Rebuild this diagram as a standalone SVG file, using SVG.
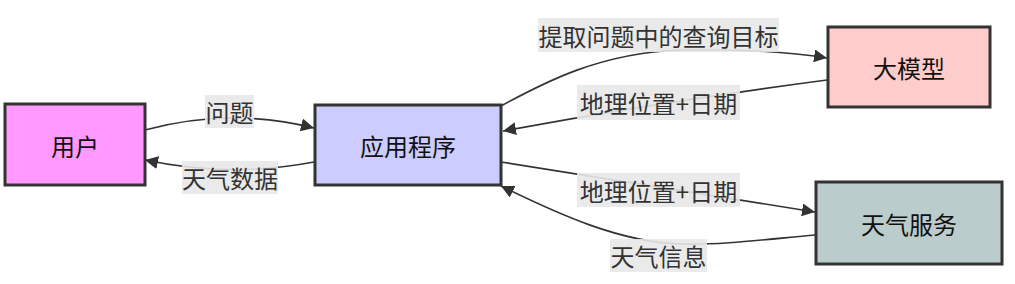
<svg xmlns="http://www.w3.org/2000/svg" width="1015" height="284" viewBox="0 0 1015 284">
<style>
.node rect{stroke:#333;stroke-width:3}
.node text,.lbl text{font-family:"Noto Sans CJK SC","Noto Sans",sans-serif;font-size:24px;fill:#333;text-anchor:middle;dominant-baseline:central}
.node text{fill:#111}
.edge{fill:none;stroke:#333;stroke-width:1.6}
.lbl rect{fill:#e8e8e8;opacity:0.9}
</style>
<defs>
<marker id="arr" viewBox="0 0 10 10" refX="10" refY="5" markerUnits="userSpaceOnUse" markerWidth="13" markerHeight="13" orient="auto">
<path d="M0,0 L10,5 L0,10 z" fill="#333"/>
</marker>
</defs>
<rect width="1015" height="284" fill="#fff"/>
<g id="connectors">
<path class="edge" d="M145,130 Q229,107 314,128" marker-end="url(#arr)"/>
<path class="edge" d="M314,162 Q230,178 145,160" marker-end="url(#arr)"/>
<path class="edge" d="M501,106 C545,82 600,53 680,50 C740,49 790,52 827,58" marker-end="url(#arr)"/>
<path class="edge" d="M827,80 Q660,102 503,131" marker-end="url(#arr)"/>
<path class="edge" d="M501,162 L815,212" marker-end="url(#arr)"/>
<path class="edge" d="M815,235 C760,240 720,245 680,244 C620,242 560,215 501,186" marker-end="url(#arr)"/>
<g class="lbl"><rect x="205" y="95" width="49" height="33"/><text x="229.5" y="111.5">问题</text></g>
<g class="lbl"><rect x="182" y="161" width="96" height="33"/><text x="230" y="177.5">天气数据</text></g>
<g class="lbl"><rect x="538" y="18" width="241" height="34"/><text x="658.5" y="35">提取问题中的查询目标</text></g>
<g class="lbl"><rect x="577" y="85" width="163" height="35"/><text x="658.5" y="102.5">地理位置+日期</text></g>
<g class="lbl"><rect x="577" y="173" width="163" height="34"/><text x="658.5" y="190">地理位置+日期</text></g>
<g class="lbl"><rect x="610" y="239" width="97" height="33"/><text x="658.5" y="255.5">天气信息</text></g>
</g>
<g id="user" class="node"><rect x="5" y="104" width="140" height="81" fill="#ff99ff"/><text x="75" y="145">用户</text></g>
<g id="app" class="node"><rect x="315" y="105" width="186" height="80" fill="#ccccff"/><text x="408" y="145">应用程序</text></g>
<g id="llm" class="node"><rect x="828" y="27" width="162" height="80" fill="#ffcccc"/><text x="909" y="67">大模型</text></g>
<g id="weather" class="node"><rect x="816" y="182" width="186" height="82" fill="#bbcccc"/><text x="909" y="223">天气服务</text></g>
</svg>
